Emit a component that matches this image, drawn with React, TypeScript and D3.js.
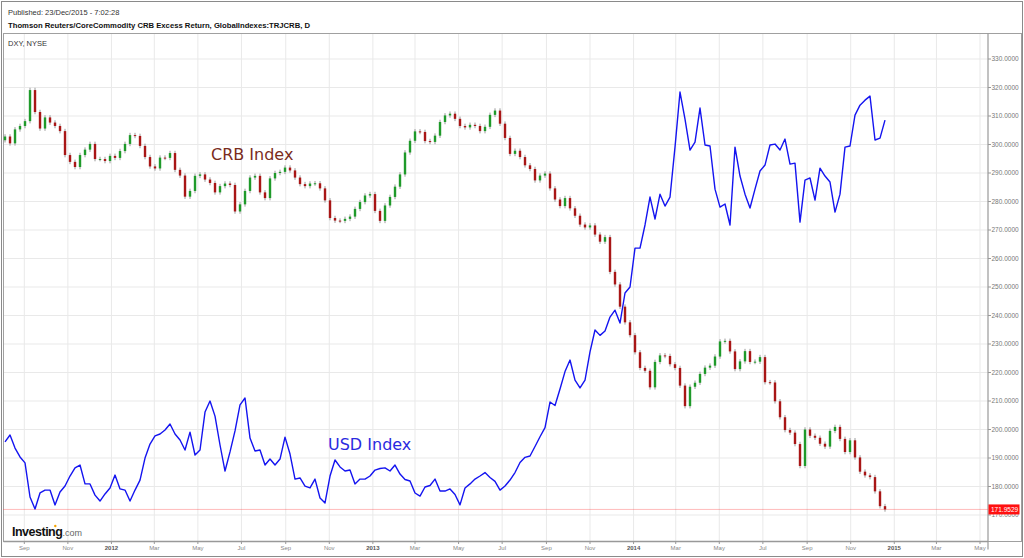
import React, { useEffect } from "react";
import * as d3 from "d3";

// ---- DATA ----
// weekly samples starting 2011-08-05 (calendar labels as shown on the chart)
const seriesStart = "2011-08-05";
const crbClose = [
  302.8, 300.4, 305.3, 306.5, 308.2, 319.1, 311.4, 305.6, 309.5, 307.7,
  306.5, 304.7, 296.3, 293.9, 292.1, 296.3, 298.2, 300.2, 294.9, 294.9,
  294.2, 296.0, 295.3, 297.7, 300.2, 303.3, 303.0, 299.5, 295.6, 292.3,
  291.6, 295.4, 295.3, 297.0, 291.1, 289.1, 281.7, 283.7, 289.0, 289.5,
  287.7, 286.5, 283.2, 285.4, 286.3, 285.8, 276.5, 279.0, 283.7, 288.4,
  289.0, 283.2, 281.2, 288.1, 290.0, 290.4, 291.9, 290.9, 288.4, 286.1,
  285.4, 286.3, 286.4, 284.6, 280.4, 274.2, 273.3, 273.2, 273.9, 274.7,
  277.4, 279.8, 282.1, 282.6, 276.7, 273.2, 278.6, 281.6, 285.2, 289.5,
  297.2, 301.3, 304.6, 304.4, 301.2, 300.9, 303.1, 307.9, 310.2, 310.8,
  309.0, 306.5, 306.0, 306.9, 306.5, 304.7, 306.2, 310.4, 311.9, 307.3,
  302.3, 296.7, 297.8, 295.6, 292.7, 291.4, 287.4, 289.1, 289.8, 284.6,
  280.7, 278.4, 281.2, 277.6, 275.0, 271.9, 270.9, 271.6, 268.4, 265.9,
  267.5, 255.3, 250.9, 243.1, 237.6, 233.1, 227.1, 221.6, 220.6, 214.8,
  223.7, 226.0, 225.8, 222.9, 221.6, 215.4, 208.2, 215.0, 216.4, 219.5,
  221.7, 222.4, 225.6, 230.9, 231.1, 227.4, 221.2, 223.9, 227.5, 223.7,
  223.8, 225.4, 216.6, 216.5, 209.9, 204.3, 199.8, 198.9, 194.9, 187.2,
  200.0, 197.8, 197.1, 195.0, 194.0, 199.5, 200.9, 196.7, 192.1, 196.2,
  190.2, 185.2, 183.9, 183.3, 178.3, 173.1, 171.9529,
];
const crbFirstOpen = 301.5;
const usdClose = [
  82.03, 82.39, 81.71, 81.25, 80.94, 79.17, 78.55, 79.38, 79.53, 79.53,
  78.76, 79.43, 79.74, 80.26, 80.68, 80.83, 79.85, 79.85, 79.27, 78.96,
  79.33, 79.64, 80.31, 79.59, 79.53, 78.96, 79.53, 80.05, 81.19, 81.92,
  82.34, 82.44, 82.65, 82.96, 82.44, 82.13, 81.61, 82.54, 81.35, 81.61,
  83.58, 84.15, 83.37, 81.87, 80.52, 81.51, 82.60, 83.95, 84.31, 82.23,
  81.56, 81.61, 80.83, 81.14, 80.83, 81.14, 82.28, 81.40, 80.10, 80.16,
  79.74, 79.64, 80.10, 79.12, 78.86, 80.26, 81.09, 80.73, 80.52, 80.57,
  79.85, 80.10, 80.10, 80.26, 80.57, 80.65, 80.68, 80.52, 80.83, 80.36,
  80.08, 80.00, 79.38, 79.22, 79.69, 79.77, 80.10, 79.48, 79.48, 79.59,
  79.30, 78.76, 79.64, 79.85, 80.10, 80.26, 80.44, 80.18, 79.98, 79.53,
  79.74, 80.05, 80.44, 80.96, 81.23, 81.30, 81.79, 82.30, 82.77, 84.10,
  83.92, 84.78, 85.68, 86.28, 85.24, 84.83, 85.24, 86.70, 87.84, 87.56,
  87.79, 88.51, 88.87, 88.20, 89.76, 90.07, 92.09, 92.09, 93.29, 94.74,
  93.60, 94.89, 94.27, 94.74, 97.33, 100.19, 98.79, 97.18, 97.59, 99.36,
  97.44, 97.39, 95.15, 94.22, 94.38, 93.29, 97.33, 95.83, 94.89, 94.17,
  95.15, 96.09, 96.40, 97.44, 97.49, 97.18, 97.75, 96.45, 96.50, 93.44,
  95.62, 95.73, 94.58, 96.24, 95.83, 95.52, 93.96, 94.89, 97.33, 97.39,
  98.99, 99.51, 99.77, 99.98, 97.70, 97.80, 98.73,
];
const priceTicks = [170, 180, 190, 200, 210, 220, 230, 240, 250, 260, 270, 280, 290, 300, 310, 320, 330];
const lastPrice = 171.9529;
const headerPublished = "Published: 23/Dec/2015 - 7:02:28";
const headerTitle = "Thomson Reuters/CoreCommodity CRB Excess Return, GlobalIndexes:TRJCRB, D";
const paneLabel = "DXY, NYSE";
const crbLabel = "CRB Index";
const usdLabel = "USD Index";

const W = 1024;
const H = 558;
const F = "Arial, 'Liberation Sans', sans-serif";

export default function App() {
  useEffect(() => {
    document.body.style.margin = "0";
  }, []);

  const plotL = 3.5, plotR = 988, plotT = 33.5, plotB = 541.5;

  const x = d3
    .scaleUtc()
    .domain([new Date(Date.UTC(2011, 8, 1)), new Date(Date.UTC(2015, 4, 1))])
    .range([24.3, 980]);
  const y = d3.scaleLinear().domain([170, 330]).range([515, 59]);
  const yUsd = d3.scaleLinear().domain([78.6, 100.4]).range([508, 88]);

  const start = new Date(seriesStart + "T00:00:00Z");
  const dates = crbClose.map((_, i) => d3.utcDay.offset(start, 7 * i));

  const xTicks = d3.utcMonth.every(2)!.range(new Date(Date.UTC(2011, 8, 1)), new Date(Date.UTC(2015, 5, 1)));
  const fmtTick = (d: Date) => (d.getUTCMonth() === 0 ? d3.utcFormat("%Y")(d) : d3.utcFormat("%b")(d));

  const usdLine = d3
    .line<number>()
    .x((_, i) => x(dates[i]))
    .y((v) => yUsd(v))(usdClose);

  const candles = crbClose.map((c, i) => {
    const o = i === 0 ? crbFirstOpen : crbClose[i - 1];
    const hi = Math.max(o, c) + 0.8;
    const lo = Math.min(o, c) - 0.8;
    return { d: dates[i], o, c, hi, lo, up: c >= o };
  });

  const lastY = y(lastPrice);

  return (
    <svg width={W} height={H} style={{ display: "block", background: "#fff" }} fontFamily={F}>
      {/* outer frame */}
      <rect x={1.5} y={1.5} width={W - 3} height={H - 3} fill="none" stroke="#8a8a8a" strokeWidth={1} />

      {/* header */}
      <text x={8} y={15} fontSize={7.5} fill="#333">{headerPublished}</text>
      <text x={8} y={28} fontSize={7.7} fontWeight="bold" fill="#111">{headerTitle}</text>

      {/* gridlines */}
      <g stroke="#e9e9e9" strokeWidth={1}>
        {priceTicks.map((t) => (
          <line key={"h" + t} x1={plotL} x2={plotR} y1={y(t)} y2={y(t)} />
        ))}
        {xTicks.map((t) => (
          <line key={"v" + t.getTime()} x1={x(t)} x2={x(t)} y1={plotT} y2={plotB} />
        ))}
      </g>

      {/* pane frame */}
      <rect x={plotL} y={plotT} width={W - 2 - plotL - 0.5} height={plotB - plotT} fill="none" stroke="#a0a0a0" strokeWidth={1} />
      <line x1={plotR} x2={plotR} y1={plotT} y2={plotB + 8} stroke="#999" strokeWidth={1.2} />
      <line x1={plotL} x2={plotR} y1={plotB} y2={plotB} stroke="#999" strokeWidth={1.5} />

      <text x={8} y={46} fontSize={7.5} fill="#333">{paneLabel}</text>

      {/* right price axis */}
      <g fontSize={6.5} fill="#777">
        {priceTicks.map((t) => (
          <g key={"t" + t}>
            <line x1={plotR} x2={plotR + 3} y1={y(t)} y2={y(t)} stroke="#999" />
            <text x={plotR + 3.5} y={y(t) + 2.3}>{t.toFixed(4)}</text>
          </g>
        ))}
      </g>

      {/* bottom axis labels */}
      <g fontSize={6} fill="#777" textAnchor="middle">
        {xTicks.map((t) => (
          <g key={"b" + t.getTime()}>
            <line x1={x(t)} x2={x(t)} y1={plotB} y2={plotB + 2.5} stroke="#999" />
            <text x={x(t)} y={550} fontWeight={t.getUTCMonth() === 0 ? "bold" : "normal"} fill={t.getUTCMonth() === 0 ? "#555" : "#888"}>
              {fmtTick(t)}
            </text>
          </g>
        ))}
      </g>

      {/* last price dotted line */}
      <line x1={plotL} x2={plotR} y1={lastY} y2={lastY} stroke="#ff4040" strokeOpacity={0.7} strokeWidth={1} strokeDasharray="1,1" />

      {/* USD line */}
      <path d={usdLine ?? ""} fill="none" stroke="#1414f0" strokeWidth={1.4} strokeLinejoin="round" />

      {/* CRB candles */}
      <g>
        {candles.map((k, i) => {
          const cx = x(k.d);
          const top = y(Math.max(k.o, k.c));
          const bot = y(Math.min(k.o, k.c));
          return (
            <g key={"c" + i}>
              <line x1={cx} x2={cx} y1={y(k.hi)} y2={y(k.lo)} stroke="#9a9a9a" strokeWidth={1} />
              <rect x={cx - 1.2} y={top} width={2.4} height={Math.max(1, bot - top)} fill={k.up ? "#1f9a2a" : "#a81616"} />
            </g>
          );
        })}
      </g>

      {/* annotation labels */}
      <text x={211} y={160} fontSize={16} fill="#7a2c1c" fontFamily="'DejaVu Sans', Verdana, sans-serif">{crbLabel}</text>
      <text x={328} y={450} fontSize={16} fill="#2a2ae0" fontFamily="'DejaVu Sans', Verdana, sans-serif">{usdLabel}</text>

      {/* last price label */}
      <rect x={plotR + 0.5} y={lastY - 5} width={31} height={10} fill="#ff1010" />
      <text x={plotR + 3} y={lastY + 2.4} fontSize={6.5} fill="#fff">{lastPrice.toFixed(4)}</text>

      {/* logo */}
      <text x={12} y={536} fontFamily={F}>
        <tspan fontSize={12.5} fontWeight="bold" fill="#111" letterSpacing={-0.5}>Investing</tspan>
        <tspan fontSize={9} fill="#666">.com</tspan>
      </text>
      <circle cx={55.3} cy={526} r={1.2} fill="#f5a300" />
    </svg>
  );
}
